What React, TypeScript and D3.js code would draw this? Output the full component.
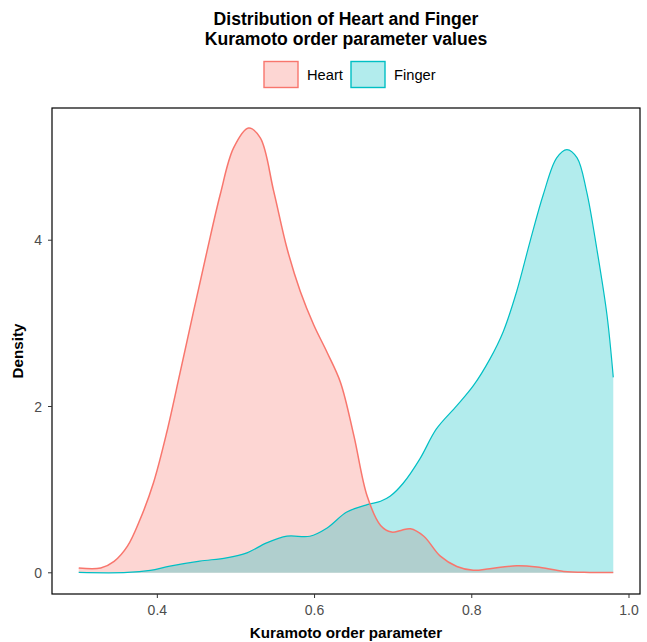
import * as d3 from 'd3'

// Heart density
const heartX = [
  0.3, 0.328, 0.345, 0.362, 0.378, 0.395, 0.412, 0.429, 0.446, 0.463, 0.48, 0.497, 0.516, 0.531,
  0.548, 0.565, 0.582, 0.599, 0.616, 0.633, 0.65, 0.667, 0.684, 0.698, 0.71, 0.722, 0.739, 0.76,
  0.781, 0.802, 0.823, 0.857, 0.883, 0.917, 0.95, 0.98,
]
const heartD = [
  0.057, 0.057, 0.137, 0.32, 0.64, 1.08, 1.69, 2.41, 3.14, 3.86, 4.55, 5.11, 5.35, 5.23, 4.59, 3.9,
  3.38, 2.98, 2.65, 2.29, 1.65, 0.92, 0.57, 0.49, 0.51, 0.53, 0.44, 0.2, 0.076, 0.03, 0.05, 0.085,
  0.07, 0.016, 0.005, 0.004,
]

// Finger density
const fingerX = [
  0.3, 0.362, 0.391, 0.416, 0.454, 0.488, 0.514, 0.539, 0.565, 0.594, 0.616, 0.641, 0.667, 0.684,
  0.696, 0.713, 0.734, 0.755, 0.781, 0.802, 0.823, 0.84, 0.857, 0.874, 0.891, 0.908, 0.921, 0.934,
  0.946, 0.959, 0.972, 0.98,
]
const fingerD = [
  0.004, 0.004, 0.03, 0.08, 0.14, 0.18, 0.24, 0.36, 0.44, 0.44, 0.54, 0.73, 0.82, 0.86, 0.92, 1.08,
  1.37, 1.73, 2.01, 2.25, 2.57, 2.9, 3.38, 3.98, 4.55, 4.99, 5.09, 4.99, 4.59, 3.9, 3.1, 2.35,
]

const xTicks = [0.4, 0.6, 0.8, 1.0]
const yTicks = [0, 2, 4]
const groups = ['Heart', 'Finger']
const colors = ['#F8766D', '#00BFC4']

const W = 647
const H = 642
const panel = { left: 52, right: 640, top: 108, bottom: 594 }
const font = "'Liberation Sans', Arial, Helvetica, sans-serif"

type Pt = { x: number; d: number }

export default function App() {
  const x = d3.scaleLinear().domain([0.266, 1.014]).range([panel.left, panel.right])
  const y = d3.scaleLinear().domain([-0.255, 5.59]).range([panel.bottom, panel.top])

  const heart: Pt[] = heartX.map((v, i) => ({ x: v, d: heartD[i] }))
  const finger: Pt[] = fingerX.map((v, i) => ({ x: v, d: fingerD[i] }))

  const curve = d3.curveCatmullRom.alpha(0.5)
  const area = d3
    .area<Pt>()
    .x((p) => x(p.x))
    .y0(y(0))
    .y1((p) => y(p.d))
    .curve(curve)
  const line = d3
    .line<Pt>()
    .x((p) => x(p.x))
    .y((p) => y(p.d))
    .curve(curve)

  const cx = (panel.left + panel.right) / 2
  const cy = (panel.top + panel.bottom) / 2

  return (
    <svg
      width={W}
      height={H}
      style={{ position: 'absolute', left: 0, top: 0, background: '#fff' }}
      fontFamily={font}
    >
      {/* titles */}
      <text x={cx} y={25} textAnchor="middle" fontSize={17.6} fontWeight="bold" fill="#000">
        Distribution of Heart and Finger
      </text>
      <text x={cx} y={45} textAnchor="middle" fontSize={17.6} fontWeight="bold" fill="#000">
        Kuramoto order parameter values
      </text>

      {/* legend */}
      {groups.map((g, i) => {
        const kx = i === 0 ? 264 : 351
        return (
          <g key={g}>
            <rect
              x={kx}
              y={61.5}
              width={34}
              height={26}
              fill={colors[i]}
              fillOpacity={0.3}
              stroke={colors[i]}
              strokeWidth={1.4}
            />
            <text x={kx + 43} y={80} fontSize={14.7} fill="#000">
              {g}
            </text>
          </g>
        )
      })}

      {/* densities */}
      <path d={area(heart) || ''} fill={colors[0]} fillOpacity={0.3} />
      <path d={area(finger) || ''} fill={colors[1]} fillOpacity={0.3} />
      <path d={line(finger) || ''} fill="none" stroke={colors[1]} strokeWidth={1.2} />
      <path d={line(heart) || ''} fill="none" stroke={colors[0]} strokeWidth={1.5} />

      {/* panel border */}
      <rect
        x={panel.left}
        y={panel.top}
        width={panel.right - panel.left}
        height={panel.bottom - panel.top}
        fill="none"
        stroke="#000"
        strokeWidth={1.2}
      />

      {/* x axis */}
      {xTicks.map((t) => (
        <g key={t}>
          <line x1={x(t)} x2={x(t)} y1={panel.bottom} y2={panel.bottom + 4} stroke="#333" />
          <text x={x(t)} y={panel.bottom + 21} textAnchor="middle" fontSize={14} fill="#4D4D4D">
            {t.toFixed(1)}
          </text>
        </g>
      ))}
      <text x={cx} y={638} textAnchor="middle" fontSize={15.2} fontWeight="bold" fill="#000">
        Kuramoto order parameter
      </text>

      {/* y axis */}
      {yTicks.map((t) => (
        <g key={t}>
          <line x1={panel.left - 4} x2={panel.left} y1={y(t)} y2={y(t)} stroke="#333" />
          <text
            x={panel.left - 10}
            y={y(t)}
            dy="0.36em"
            textAnchor="end"
            fontSize={14}
            fill="#4D4D4D"
          >
            {t}
          </text>
        </g>
      ))}
      <text
        transform={`translate(23,${cy}) rotate(-90)`}
        textAnchor="middle"
        fontSize={15.2}
        fontWeight="bold"
        fill="#000"
      >
        Density
      </text>
    </svg>
  )
}
